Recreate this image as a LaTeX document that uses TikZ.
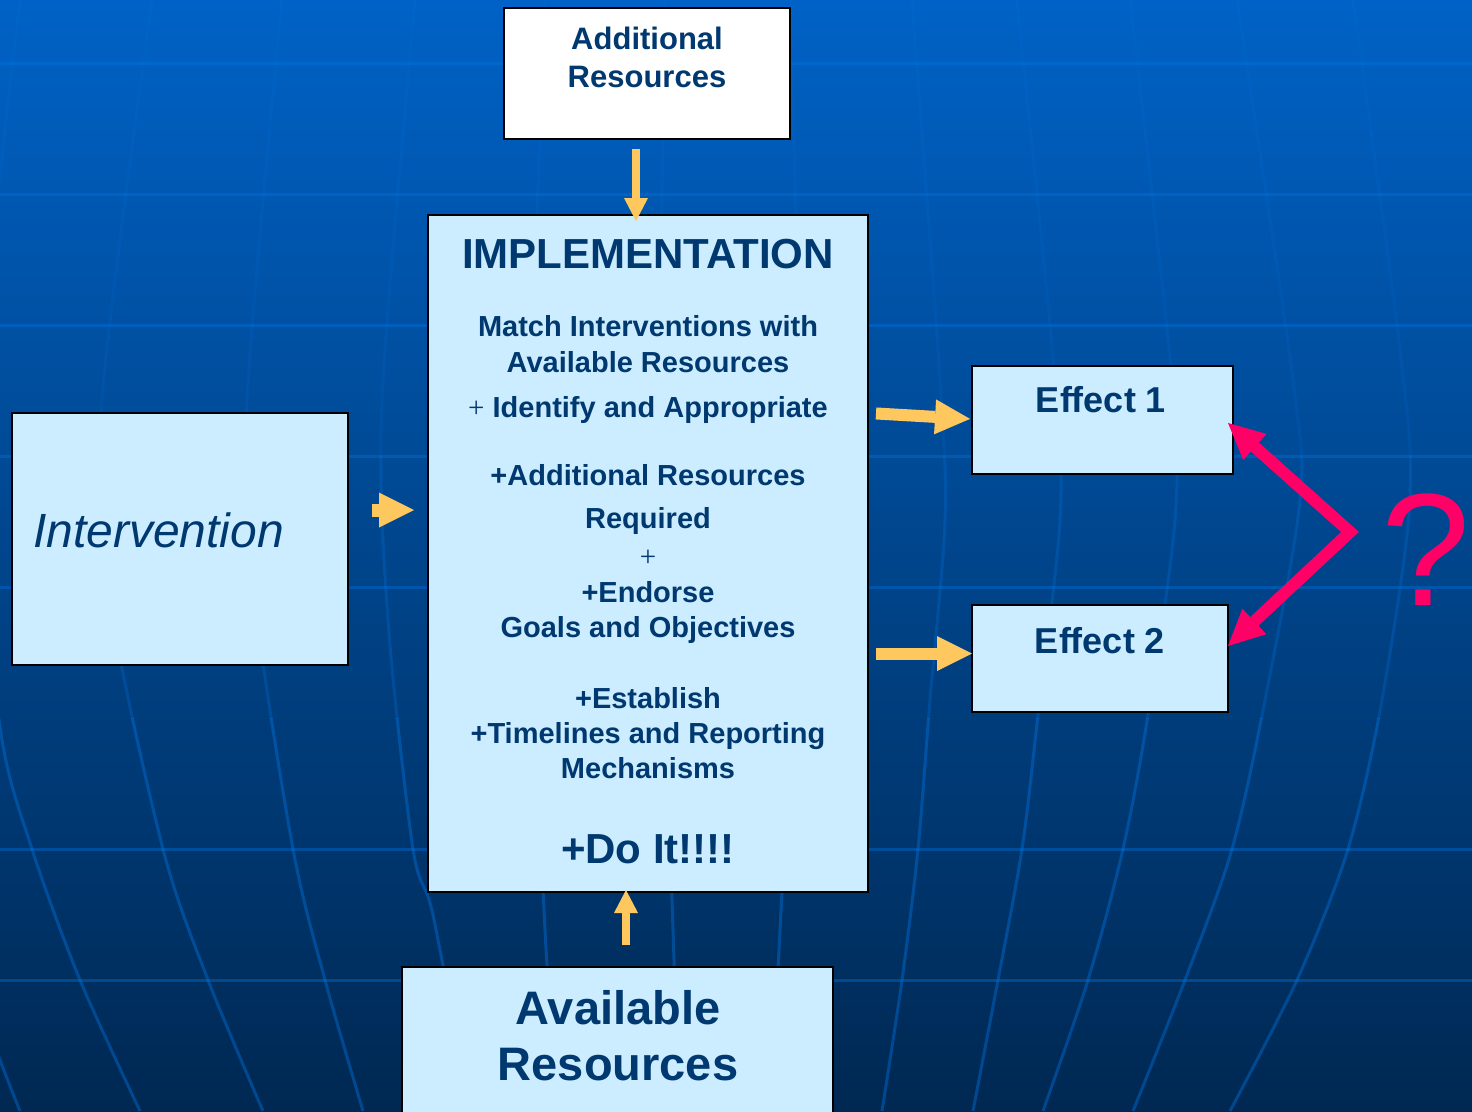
\documentclass[tikz,border=0pt]{standalone}
\usepackage{fontspec}
\setmainfont{Liberation Sans}
\newfontfamily\serifplus{Liberation Serif}
\usetikzlibrary{arrows.meta}
\definecolor{boxfill}{RGB}{204,236,255}
\definecolor{txt}{RGB}{0,56,112}
\definecolor{orng}{RGB}{255,200,95}
\definecolor{pnk}{RGB}{255,0,102}
\definecolor{bgtop}{RGB}{0,98,198}
\definecolor{bgmid}{RGB}{0,70,142}
\definecolor{bgbot}{RGB}{0,40,82}
\definecolor{gridc}{RGB}{0,115,225}
\newcommand\globelines[1]{%
\draw[meridl, draw opacity=#1] plot[smooth] coordinates {(20,0) (-25,450) (0,727) (32,849) (80,980) (140,1111)};
\draw[meridl, draw opacity=#1] plot[smooth] coordinates {(-60,900) (0,1060) (20,1111)};
\draw[meridl, draw opacity=#1] plot[smooth] coordinates {(152,0) (102,400) (110,600) (163,849) (208,980) (263,1111)};
\draw[meridl, draw opacity=#1] plot[smooth] coordinates {(282,0) (247,400) (255,600) (293,849) (325,980) (363,1111)};
\draw[meridl, draw opacity=#1] plot[smooth] coordinates {(415,0) (382,400) (388,620) (413,849) (433,915) (470,1111)};
\draw[meridl, draw opacity=#1] plot[smooth] coordinates {(545,0) (530,500) (545,930) (560,1111)};
\draw[meridl, draw opacity=#1] plot[smooth] coordinates {(665,0) (662,200) (660,500) (673,930) (680,1111)};
\draw[meridl, draw opacity=#1] plot[smooth] coordinates {(790,0) (800,500) (780,930) (770,1111)};
\draw[meridl, draw opacity=#1] plot[smooth] coordinates {(912,0) (940,380) (945,520) (930,700) (918,849) (902,980) (882,1111)};
\draw[meridl, draw opacity=#1] plot[smooth] coordinates {(1017,0) (1055,380) (1060,520) (1038,715) (1022,849) (998,980) (973,1111)};
\draw[meridl, draw opacity=#1] plot[smooth] coordinates {(1130,0) (1172,380) (1175,520) (1148,715) (1123,849) (1088,980) (1043,1111)};
\draw[meridl, draw opacity=#1] plot[smooth] coordinates {(1237,0) (1293,380) (1300,500) (1265,700) (1232,849) (1185,980) (1133,1111)};
\draw[meridl, draw opacity=#1] plot[smooth] coordinates {(1353,0) (1400,350) (1410,500) (1382,700) (1348,849) (1297,980) (1230,1111)};
}
\begin{document}
\begin{tikzpicture}[x=1pt,y=-1pt,
  box/.style={draw=black, line width=2.5pt, fill=boxfill, rectangle, inner sep=0pt, outer sep=0pt},
  whitebox/.style={box, fill=white},
  lbl/.style={text=txt, font=\bfseries\fontsize{29}{35}\selectfont, anchor=base, inner sep=0pt},
  ttl/.style={lbl, font=\bfseries\fontsize{42}{50}\selectfont},
  efftxt/.style={lbl, font=\bfseries\fontsize{36}{42}\selectfont},
  bigtxt/.style={lbl, font=\bfseries\fontsize{47}{56}\selectfont},
  addtxt/.style={lbl, font=\bfseries\fontsize{31}{38}\selectfont},
  thinplus/.style={text=txt, font=\serifplus\fontsize{29}{35}\selectfont, inner sep=0pt},
  gridl/.style={draw=gridc, draw opacity=0.4, line width=3pt},
  meridl/.style={draw=gridc, line width=3pt},
  oarrow/.style={draw=orng, line width=8pt, -{Triangle[length=23pt,width=24pt,line width=0pt]}},
  oblock/.style={draw=orng, line width=12pt, -{Triangle[length=35pt,width=35pt,line width=0pt]}},
  parrow/.style={draw=pnk, line width=12pt, line join=miter,
     {Triangle[length=36pt,width=35pt,line width=0pt]}-{Triangle[length=36pt,width=35pt,line width=0pt]}}
]
\useasboundingbox (0,0) rectangle (1472,1111);
\clip (0,0) rectangle (1472,1111);
% background
\shade[top color=bgtop, middle color=bgmid, bottom color=bgbot] (0,0) rectangle (1472,1111);
\foreach \yy in {63,194,325,456,587,849,980}
  \draw[gridl] (0,\yy) -- (1472,\yy);
% meridians, fainter towards the top
\begin{scope}
  \clip (0,0) rectangle (1472,456);
  \globelines{0.15}
\end{scope}
\begin{scope}
  \clip (0,456) rectangle (1472,718);
  \globelines{0.28}
\end{scope}
\begin{scope}
  \clip (0,718) rectangle (1472,1111);
  \globelines{0.42}
\end{scope}

% boxes
\node[whitebox, minimum width=286pt, minimum height=131pt] (addres) at (647,73.5) {};
\node[box, minimum width=440pt, minimum height=677pt] (impl) at (648,553.5) {};
\node[box, minimum width=336pt, minimum height=252pt] (interv) at (180,539) {};
\node[box, minimum width=261pt, minimum height=108pt] (eff1) at (1102.5,420) {};
\node[box, minimum width=256pt, minimum height=107pt] (eff2) at (1100,658.5) {};
\node[box, minimum width=431pt, minimum height=150pt] (avail) at (617.5,1042) {};

% texts
\node[addtxt] (addA) at (647,49) {Additional};
\node[addtxt] (addB) at (647,87) {Resources};

\node[ttl] (ttlimpl) at (648,268) {IMPLEMENTATION};
\node[lbl] (t1) at (648,336) {Match Interventions with};
\node[lbl] (t2) at (648,372) {Available Resources};
\node[lbl] (t3) at (648,417) {{\serifplus\mdseries +} Identify and Appropriate};
\node[lbl] (t4) at (648,485) {+Additional Resources};
\node[lbl] (t5) at (648,528) {Required};
\node[thinplus] (t6) at (648,558) {+};
\node[lbl] (t7) at (648,602) {+Endorse};
\node[lbl] (t8) at (648,637) {Goals and Objectives};
\node[lbl] (t9) at (648,708) {+Establish};
\node[lbl] (t10) at (648,743) {+Timelines and Reporting};
\node[lbl] (t11) at (648,778) {Mechanisms};
\node[ttl] (t12) at (648,863) {+Do It!!!!};

\node[text=txt, font=\itshape\fontsize{48}{56}\selectfont, anchor=base west, inner sep=0pt] (intxt) at (33,547) {Intervention};

\node[efftxt] (e1txt) at (1101,412) {Effect 1};
\node[efftxt] (e2txt) at (1100,653) {Effect 2};

\node[bigtxt] (avA) at (618,1024) {Available};
\node[bigtxt] (avB) at (618,1080) {Resources};

% orange arrows
\draw[oarrow, shorten <=10pt, shorten >=-6pt] ([xshift=-11pt]addres.south) -- ([xshift=-11pt]addres.south |- impl.north);
\draw[oarrow, shorten <=22pt, shorten >=-2pt] ([xshift=8.5pt]avail.north) -- ([xshift=8.5pt]avail.north |- impl.south);
\draw[oblock, line width=13pt, shorten <=24pt, shorten >=14pt] ([yshift=29pt]interv.east) -- ([yshift=29pt]interv.east -| impl.west);
\draw[oblock, shorten <=8pt, shorten >=2pt] ([yshift=140.5pt]impl.east) -- ([yshift=1pt]eff1.west);
\draw[oblock, shorten <=8pt, shorten >=0pt] ([yshift=-100pt]impl.east) -- ([yshift=5pt]eff2.west);

% pink double arrow
\coordinate (vtx) at (1350,532);
\draw[parrow] ([xshift=-5pt,yshift=-3pt]eff1.east) -- (vtx) -- ([yshift=12.5pt]eff2.east);
\node[text=pnk, font=\fontsize{160}{160}\selectfont, anchor=base west, inner sep=0pt] (qmark) at (1381,605) {?};
\end{tikzpicture}
\end{document}
